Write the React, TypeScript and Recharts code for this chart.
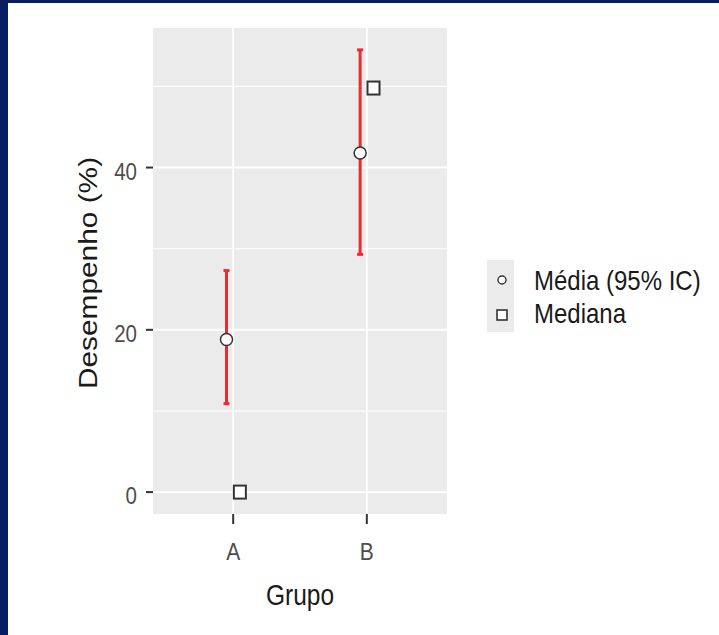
import { CartesianGrid, ComposedChart, ErrorBar, Scatter, XAxis, YAxis } from 'recharts'

const groups = ['A', 'B']
const meanValues = [18.8, 41.8]
const ciLower = [10.9, 29.3]
const ciUpper = [27.3, 54.5]
const medianValues = [0, 49.8]
const yTicks = [0, 20, 40]
const yMinorTicks = [10, 30, 50]
const legendLabels = ['Média (95% IC)', 'Mediana']

const dodge = 0.05
const FONT = '"Liberation Sans", Arial, sans-serif'
const STRETCH = 1.17
const NAVY = '#061D61'

const W = 719
const H = 635
const PLOT_LEFT = 153
const PLOT_RIGHT = 447
const PLOT_TOP = 28
const PLOT_BOTTOM = 514

const meanData = groups.map((g, i) => ({
  group: g,
  x: i + 1 - dodge,
  y: meanValues[i],
  ci: [meanValues[i] - ciLower[i], ciUpper[i] - meanValues[i]]
}))

const medianData = groups.map((g, i) => ({
  group: g,
  x: i + 1 + dodge,
  y: medianValues[i]
}))

const MeanDot = (p: any) => (
  <circle cx={p.cx} cy={p.cy} r={6} fill="#ffffff" stroke="#333333" strokeWidth={1.5} />
)

const MedianBox = (p: any) => (
  <rect x={p.cx - 6} y={p.cy - 6.5} width={12} height={13} fill="#ffffff" stroke="#333333" strokeWidth={2} />
)

const YTick = ({ x, y, payload }: any) => (
  <text
    transform={`translate(${x},${y + 12}) scale(1,${STRETCH})`}
    textAnchor="end"
    fontSize={20.5}
    fontFamily={FONT}
    fill="#4D4D4D"
  >
    {payload.value}
  </text>
)

const XTick = ({ x, y, payload }: any) => (
  <text
    transform={`translate(${x},${y + 36}) scale(1,${STRETCH})`}
    textAnchor="middle"
    fontSize={21}
    fontFamily={FONT}
    fill="#4D4D4D"
  >
    {groups[Math.round(payload.value) - 1]}
  </text>
)

export default function App() {
  const midX = (PLOT_LEFT + PLOT_RIGHT) / 2
  const midY = (PLOT_TOP + PLOT_BOTTOM) / 2

  return (
    <div style={{ position: 'absolute', left: 0, top: 0, width: W, height: H, background: '#ffffff', overflow: 'hidden' }}>
      <div style={{ position: 'absolute', left: 0, top: 0 }}>
        <ComposedChart width={W} height={H} margin={{ top: PLOT_TOP, right: W - PLOT_RIGHT, bottom: 0, left: 0 }}>
          <CartesianGrid fill="#EBEBEB" stroke="#ffffff" strokeWidth={1.1} vertical={false} horizontalValues={yMinorTicks} />
          <CartesianGrid stroke="#ffffff" strokeWidth={1.9} horizontalValues={yTicks} verticalValues={[1, 2]} />
          <XAxis
            type="number"
            dataKey="x"
            domain={[0.4, 2.6]}
            ticks={[1, 2]}
            height={H - PLOT_BOTTOM}
            axisLine={false}
            tickSize={10}
            tickMargin={0}
            tickLine={{ stroke: '#333333', strokeWidth: 2 }}
            tick={<XTick />}
            allowDataOverflow
          />
          <YAxis
            type="number"
            dataKey="y"
            domain={[-2.7, 57.2]}
            ticks={yTicks}
            width={PLOT_LEFT}
            axisLine={false}
            tickSize={7}
            tickMargin={9}
            tickLine={{ stroke: '#333333', strokeWidth: 2 }}
            tick={<YTick />}
            allowDataOverflow
          />
          <Scatter data={meanData} shape={MeanDot} isAnimationActive={false}>
            <ErrorBar dataKey="ci" direction="y" width={3} stroke="#EC2A30" strokeWidth={3} />
          </Scatter>
          <Scatter data={medianData} shape={MedianBox} isAnimationActive={false} />
        </ComposedChart>
      </div>

      <svg width={W} height={H} style={{ position: 'absolute', left: 0, top: 0, pointerEvents: 'none' }}>
        <text
          transform={`translate(${midX},605) scale(1,${STRETCH})`}
          textAnchor="middle"
          fontSize={24.5}
          fontFamily={FONT}
          fill="#1a1a1a"
        >
          Grupo
        </text>
        <text
          transform={`translate(97,${midY + 2}) scale(1,${STRETCH}) rotate(-90)`}
          textAnchor="middle"
          fontSize={25.5}
          fontFamily={FONT}
          fill="#1a1a1a"
        >
          Desempenho (%)
        </text>

        <rect x={487} y={260} width={27} height={72} fill="#EBEBEB" />
        <circle cx={502} cy={280} r={4} fill="#ffffff" stroke="#333333" strokeWidth={1.4} />
        <rect x={497} y={310} width={10} height={10} fill="#ffffff" stroke="#333333" strokeWidth={1.6} />
        {legendLabels.map((label, i) => (
          <text
            key={label}
            transform={`translate(534,${290 + i * 33}) scale(1,${STRETCH})`}
            fontSize={24}
            fontFamily={FONT}
            fill="#1a1a1a"
          >
            {label}
          </text>
        ))}

        <rect x={0} y={0} width={8} height={H} fill={NAVY} />
        <rect x={0} y={0} width={W} height={3} fill={NAVY} />
      </svg>
    </div>
  )
}
